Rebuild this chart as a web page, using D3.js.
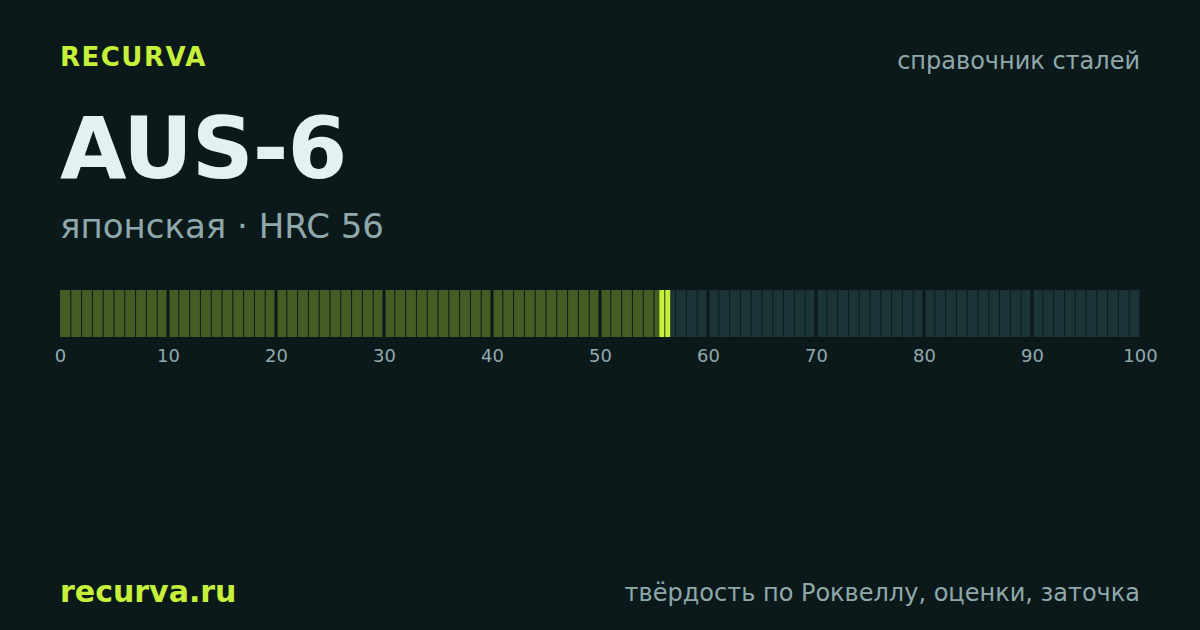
<!DOCTYPE html>
<html><head><meta charset="utf-8">
<script src="https://cdn.jsdelivr.net/npm/d3@7"></script>
<style>html,body{margin:0;padding:0;background:#0c191b;}svg{display:block;}</style>
</head><body>
<svg id="c" width="1200" height="630"></svg>
<script>
const brand = "RECURVA";
const title = "AUS-6";
const subtitle = "японская · HRC 56";
const topRight = "справочник сталей";
const footerLeft = "recurva.ru";
const footerRight = "твёрдость по Роквеллу, оценки, заточка";
const hrcValue = 56;
const cells = d3.range(0, 100);
const tickValues = [0, 10, 20, 30, 40, 50, 60, 70, 80, 90, 100];

const svg = d3.select("#c");
const font = "'DejaVu Sans', sans-serif";
svg.append("rect").attr("width", 1200).attr("height", 630).attr("fill", "#0c191b");

const x = d3.scaleLinear().domain([0, 100]).range([60, 1140]);
const barY = 290, barH = 47;

svg.append("text").attr("x", 60).attr("y", 66).text(brand)
  .attr("font-family", font).attr("font-weight", "bold").attr("font-size", 26)
  .attr("letter-spacing", 1.5).attr("fill", "#c6f03a");
svg.append("text").attr("x", 1140).attr("y", 69).attr("text-anchor", "end").text(topRight)
  .attr("font-family", font).attr("font-size", 24).attr("fill", "#8fa9ab");
svg.append("text").attr("x", 60).attr("y", 178).text(title)
  .attr("font-family", font).attr("font-weight", "bold").attr("font-size", 86)
  .attr("letter-spacing", -1).attr("fill", "#e4f1f2");
svg.append("text").attr("x", 60).attr("y", 238).text(subtitle)
  .attr("font-family", font).attr("font-size", 34).attr("fill", "#8fa9ab");

const g = svg.append("g");
g.selectAll("rect.cell").data(cells).enter().append("rect")
  .attr("class", "cell")
  .attr("x", d => x(d) + (d % 10 === 0 && d > 0 ? 1.5 : 0.5) - (d === 0 ? 0.5 : 0))
  .attr("width", d => {
    const l = x(d) + (d % 10 === 0 && d > 0 ? 1.5 : 0.5) - (d === 0 ? 0.5 : 0);
    const r = x(d + 1) - ((d + 1) % 10 === 0 && d < 99 ? 1.5 : 0.5);
    return r - l;
  })
  .attr("y", barY).attr("height", barH)
  .attr("fill", d => d < hrcValue ? "#475c25" : "#1c3338");

// marker around value
const mk = [[hrcValue - 0.5, hrcValue, -0.5], [hrcValue, hrcValue + 0.5, 0.5]];
g.selectAll("rect.mk").data(mk).enter().append("rect")
  .attr("class", "mk")
  .attr("x", d => d[2] > 0 ? x(d[0]) + 0.5 : x(d[0]))
  .attr("width", d => x(d[1]) - x(d[0]) - 0.5)
  .attr("y", barY).attr("height", barH).attr("fill", "#c6f03a");

const axis = d3.axisBottom(x).tickValues(tickValues).tickSize(0).tickPadding(0);
const ag = svg.append("g").attr("transform", `translate(0,${barY + barH + 12})`).call(axis);
ag.select(".domain").remove();
ag.selectAll("text").attr("font-family", font).attr("font-size", 18)
  .attr("fill", "#90aaad").attr("dy", "0.71em");

svg.append("text").attr("x", 60).attr("y", 602).text(footerLeft)
  .attr("font-family", font).attr("font-weight", "bold").attr("font-size", 30)
  .attr("fill", "#c6f03a");
svg.append("text").attr("x", 1140).attr("y", 601).attr("text-anchor", "end").text(footerRight)
  .attr("font-family", font).attr("font-size", 24).attr("fill", "#8fa9ab");
</script>
</body></html>
